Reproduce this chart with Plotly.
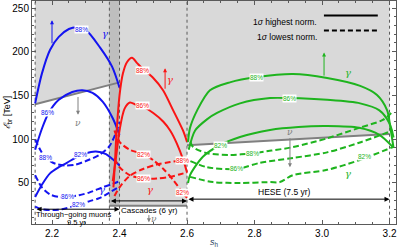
import plotly.graph_objects as go

# ---------------- data ----------------
x_ticks = [2.2, 2.4, 2.6, 2.8, 3.0, 3.2]
y_ticks = [50, 100, 150, 200, 250]

muon_range = [2.15, 2.4]
cascade_range = [2.37, 2.6]
hese_range = [2.6, 3.2]
dotted_x = [2.15, 2.37, 2.4, 2.6, 3.2]

nu_muon_x = [2.15, 2.4]
nu_muon_y = [140, 165]
nu_casc_y = 24
nu_hese_x = [2.6, 3.2]
nu_hese_y = [93, 106]
y_top = 258

# blue (through-going muons)
blue_s88_x = [2.15, 2.17, 2.194, 2.22, 2.25, 2.274, 2.30, 2.342, 2.378, 2.40]
blue_s88_y = [141, 175, 202, 217, 226, 228, 225, 205, 183, 159]
blue_s86_x = [2.15, 2.17, 2.19, 2.22, 2.26, 2.29, 2.32, 2.35, 2.38, 2.40]
blue_s86_y = [88, 112, 130, 145, 154, 156, 153, 143, 124, 105]
blue_s82_x = [2.15, 2.17, 2.194, 2.22, 2.244, 2.27, 2.30, 2.33, 2.36, 2.38, 2.40]
blue_s82_y = [34, 48, 61, 68, 73, 79, 84, 86, 83, 77, 70]
blue_d88_x = [2.15, 2.165, 2.18, 2.21, 2.24, 2.27, 2.30, 2.34, 2.37, 2.39, 2.40]
blue_d88_y = [100, 88, 79, 72, 70, 71, 75, 82, 92, 108, 120]
blue_d86_x = [2.15, 2.17, 2.194, 2.22, 2.247, 2.28, 2.31, 2.35, 2.38, 2.40]
blue_d86_y = [59, 45, 37, 34, 34, 36, 39, 45, 49, 52]
blue_d82_x = [2.15, 2.17, 2.194, 2.23, 2.277, 2.31, 2.342, 2.37, 2.40]
blue_d82_y = [23, 20, 19, 20, 25, 29, 33, 39, 46]

# red (cascades)
red_s88_x = [2.382, 2.386, 2.39, 2.40, 2.41, 2.422, 2.437, 2.452, 2.47, 2.50, 2.529, 2.559, 2.588, 2.60]
red_s88_y = [45, 70, 100, 150, 175, 188, 193, 187, 180, 170, 156, 133, 110, 97]
red_s86_x = [2.38, 2.39, 2.40, 2.415, 2.431, 2.45, 2.47, 2.50, 2.53, 2.55, 2.57, 2.59, 2.60]
red_s86_y = [52, 80, 110, 135, 142, 139, 137, 130, 120, 110, 95, 75, 62]
red_d82_x = [2.385, 2.40, 2.43, 2.47, 2.50, 2.53, 2.56, 2.587, 2.60]
red_d82_y = [110, 97, 88, 83, 76, 66, 53, 39, 33]
red_d88_x = [2.385, 2.40, 2.43, 2.47, 2.51, 2.55, 2.587, 2.60]
red_d88_y = [35, 45, 58, 66, 71, 74, 76, 77]
red_d86_x = [2.385, 2.40, 2.43, 2.47, 2.51, 2.55, 2.58, 2.60]
red_d86_y = [78, 68, 59, 55, 55, 57, 60, 62]

# green (HESE)
green_s88_x = [2.603, 2.609, 2.63, 2.668, 2.727, 2.807, 2.914, 3.015, 3.113, 3.163, 3.193, 3.203, 3.212]
green_s88_y = [97, 113, 133, 156, 165, 171, 174.6, 170, 161, 150.6, 133, 112, 90]
green_s86_x = [2.605, 2.624, 2.66, 2.689, 2.757, 2.846, 2.905, 3.015, 3.113, 3.17, 3.2, 3.212]
green_s86_y = [88, 110, 123, 130, 141, 147, 147, 145, 141, 133, 118, 102]
green_s82_x = [2.603, 2.609, 2.647, 2.698, 2.757, 2.846, 2.93, 3.015, 3.11, 3.17, 3.21]
green_s82_y = [50, 59, 80, 93.4, 102.6, 110.6, 114, 115, 113, 105, 91]
green_d88_x = [2.61, 2.618, 2.66, 2.727, 2.795, 2.85, 2.914, 3.015, 3.11, 3.18, 3.205]
green_d88_y = [97, 91, 84, 82, 84, 87, 91, 101, 113, 122, 130]
green_d86_x = [2.61, 2.66, 2.748, 2.816, 2.914, 3.015, 3.11, 3.21]
green_d86_y = [75, 68, 66, 73, 78.6, 85, 96, 110]
green_d82_x = [2.609, 2.677, 2.757, 2.846, 2.875, 2.914, 3.015, 3.11, 3.21]
green_d82_y = [57, 51, 50, 51, 51, 59, 65, 76, 91]

# contour labels: (x, y, text, colour key)
contour_labels = [
    (2.286, 225, "88%", "b"), (2.188, 130, "86%", "b"), (2.283, 83, "82%", "b"),
    (2.18, 79, "88%", "b"), (2.247, 34, "86%", "b"), (2.277, 25, "82%", "b"),
    (2.467, 179, "88%", "r"), (2.467, 138, "86%", "r"), (2.47, 83, "82%", "r"),
    (2.587, 76, "88%", "r"), (2.47, 55, "86%", "r"), (2.587, 39, "82%", "r"),
    (2.807, 171, "88%", "g"), (2.905, 147, "86%", "g"), (2.698, 93, "82%", "g"),
    (2.795, 84, "88%", "g"), (2.748, 66, "86%", "g"), (3.127, 80, "82%", "g"),
]

BLUE = "rgb(20,20,240)"
RED = "rgb(250,20,20)"
GREEN = "rgb(30,180,30)"
GRAY = "rgb(128,128,128)"
COL = {"b": BLUE, "r": RED, "g": GREEN}
LIGHT = "rgb(217,217,217)"
DARK = "rgb(190,190,190)"

fig = go.Figure()

# ---------------- shading ----------------
fig.add_trace(go.Scatter(
    x=[nu_muon_x[0], nu_muon_x[1], nu_muon_x[1], nu_muon_x[0]],
    y=[nu_muon_y[0], nu_muon_y[1], y_top, y_top],
    fill="toself", fillcolor=LIGHT, line=dict(width=0), mode="lines",
    hoverinfo="skip", showlegend=False))
fig.add_trace(go.Scatter(
    x=[cascade_range[0], cascade_range[1], cascade_range[1], cascade_range[0]],
    y=[nu_casc_y, nu_casc_y, y_top, y_top],
    fill="toself", fillcolor=LIGHT, line=dict(width=0), mode="lines",
    hoverinfo="skip", showlegend=False))
fig.add_trace(go.Scatter(
    x=[nu_hese_x[0], nu_hese_x[1], nu_hese_x[1], nu_hese_x[0]],
    y=[nu_hese_y[0], nu_hese_y[1], y_top, y_top],
    fill="toself", fillcolor=LIGHT, line=dict(width=0), mode="lines",
    hoverinfo="skip", showlegend=False))
fig.add_trace(go.Scatter(
    x=[cascade_range[0], muon_range[1], muon_range[1], cascade_range[0]],
    y=[nu_casc_y, nu_casc_y, y_top, y_top],
    fill="toself", fillcolor=DARK, line=dict(width=0), mode="lines",
    hoverinfo="skip", showlegend=False))

# threshold lines
for xs, ys in [(nu_muon_x, nu_muon_y), (cascade_range, [nu_casc_y, nu_casc_y]), (nu_hese_x, nu_hese_y)]:
    fig.add_trace(go.Scatter(x=xs, y=ys, mode="lines", line=dict(color=GRAY, width=2),
                             hoverinfo="skip", showlegend=False))

# dotted vertical lines
for xv in dotted_x:
    fig.add_trace(go.Scatter(x=[xv, xv], y=[0, 300], mode="lines",
                             line=dict(color="rgb(90,90,90)", width=1, dash="dot"),
                             hoverinfo="skip", showlegend=False))

# ---------------- curves ----------------
curves = [
    (blue_s88_x, blue_s88_y, BLUE, "solid"), (blue_s86_x, blue_s86_y, BLUE, "solid"),
    (blue_s82_x, blue_s82_y, BLUE, "solid"), (blue_d88_x, blue_d88_y, BLUE, "dash"),
    (blue_d86_x, blue_d86_y, BLUE, "dash"), (blue_d82_x, blue_d82_y, BLUE, "dash"),
    (red_s88_x, red_s88_y, RED, "solid"), (red_s86_x, red_s86_y, RED, "solid"),
    (red_d82_x, red_d82_y, RED, "dash"), (red_d88_x, red_d88_y, RED, "dash"),
    (red_d86_x, red_d86_y, RED, "dash"),
    (green_s88_x, green_s88_y, GREEN, "solid"), (green_s86_x, green_s86_y, GREEN, "solid"),
    (green_s82_x, green_s82_y, GREEN, "solid"), (green_d88_x, green_d88_y, GREEN, "dash"),
    (green_d86_x, green_d86_y, GREEN, "dash"), (green_d82_x, green_d82_y, GREEN, "dash"),
]
for xs, ys, c, d in curves:
    fig.add_trace(go.Scatter(x=xs, y=ys, mode="lines",
                             line=dict(color=c, width=2, dash="6px,3px" if d == "dash" else "solid",
                                       shape="spline", smoothing=0.8),
                             hoverinfo="skip", showlegend=False))

ann = []
for x, y, t, k in contour_labels:
    ann.append(dict(x=x, y=y, text=t, showarrow=False, bgcolor="white", borderpad=0,
                    font=dict(size=6.5, color=COL[k], family="Liberation Sans")))

# gamma arrows (pointing up)
for x0, y0, y1, col in [(2.2, 208, 236, BLUE), (2.535, 156, 181, RED), (3.006, 171, 199, GREEN)]:
    ann.append(dict(x=x0, y=y1, ax=x0, ay=y0, xref="x", yref="y", axref="x", ayref="y",
                    showarrow=True, arrowhead=2, arrowsize=0.8, arrowwidth=1, arrowcolor=col, text=""))
for x, y, col in [(2.357, 221, BLUE), (2.55, 168, RED), (3.077, 176, GREEN),
                  (2.348, 43, BLUE), (2.49, 42, RED), (3.077, 61, GREEN)]:
    ann.append(dict(x=x, y=y, text="<i>γ</i>", showarrow=False,
                    font=dict(size=10, color=col, family="DejaVu Serif")))

# nu arrows (pointing down)
for x0, y0, y1 in [(2.277, 150, 128), (2.905, 103, 68), (2.487, 15, 5)]:
    ann.append(dict(x=x0, y=y1, ax=x0, ay=y0, xref="x", yref="y", axref="x", ayref="y",
                    showarrow=True, arrowhead=2, arrowsize=0.8, arrowwidth=1, arrowcolor=GRAY, text=""))
for x, y in [(2.277, 119), (2.905, 108), (2.503, 9)]:
    ann.append(dict(x=x, y=y, text="<i>ν</i>", showarrow=False,
                    font=dict(size=9, color=GRAY, family="DejaVu Serif")))

# sample range arrows
for (xa, xb), yv in [(muon_range, 20), (cascade_range, 29.5), (hese_range, 31.5)]:
    ann.append(dict(x=xb, y=yv, ax=xa, ay=yv, xref="x", yref="y", axref="x", ayref="y",
                    showarrow=True, arrowhead=2, startarrowhead=2, arrowside="end+start",
                    arrowsize=1, arrowwidth=1, arrowcolor="black", text=""))
txt_font = dict(size=7.5, color="black", family="Liberation Sans")
ann += [
    dict(x=2.265, y=14, text="Through−going muons", showarrow=False, font=txt_font),
    dict(x=2.272, y=5, text="9.5 yr", showarrow=False, font=txt_font),
    dict(x=2.49, y=18.5, text="Cascades (6 yr)", showarrow=False, font=dict(size=8, color="black", family="Liberation Sans")),
    dict(x=2.89, y=40, text="HESE (7.5 yr)", showarrow=False, font=dict(size=8.5, color="black", family="Liberation Sans")),
]

# y-axis title as rotated text
ann.append(dict(x=-0.066, y=0.5, xref="paper", yref="paper", xanchor="center", yanchor="middle",
                textangle=-90, showarrow=False, text="<i>ℰ</i><sub>br</sub> [TeV]",
                font=dict(size=9, color="black", family="Liberation Sans")))

# legend
leg_font = dict(size=8.5, color="black", family="Liberation Sans")
ann += [
    dict(x=0.789, y=0.935, xref="paper", yref="paper", xanchor="right", text="1<i>σ</i> highest norm.",
         showarrow=False, font=leg_font),
    dict(x=0.789, y=0.868, xref="paper", yref="paper", xanchor="right", text="1<i>σ</i> lowest norm.",
         showarrow=False, font=leg_font),
]
shapes = [
    dict(type="line", xref="paper", yref="paper", x0=0.802, x1=0.95, y0=0.935, y1=0.935,
         line=dict(color="black", width=2)),
    dict(type="line", xref="paper", yref="paper", x0=0.802, x1=0.95, y0=0.868, y1=0.868,
         line=dict(color="black", width=2, dash="5px,3px")),
]

axis_common = dict(showline=True, linecolor="rgb(90,90,90)", linewidth=1, mirror="ticks",
                   ticks="inside", ticklen=4, tickcolor="rgb(90,90,90)", showgrid=False,
                   zeroline=False, automargin=False,
                   tickfont=dict(size=10, color="black", family="Liberation Sans"))
fig.update_layout(
    width=399, height=252, margin=dict(l=32, r=3, t=1, b=28),
    plot_bgcolor="white", paper_bgcolor="white",
    xaxis=dict(range=[2.1407, 3.2192], tickvals=x_ticks, ticktext=[f"{v:.1f}" for v in x_ticks],
               minor=dict(dtick=0.05, ticklen=2, ticks="inside", tickcolor="rgb(90,90,90)"),
               title=dict(text="<i>s</i><sub>h</sub>", standoff=0,
                          font=dict(size=9, family="Liberation Sans")), **axis_common),
    yaxis=dict(range=[3.1, 258], tickvals=y_ticks,
               minor=dict(dtick=10, ticklen=2, ticks="inside", tickcolor="rgb(90,90,90)"),
               **axis_common),
    annotations=ann, shapes=shapes,
)

fig.write_html("out.html", config={"displayModeBar": False},
               post_script="document.body.style.margin='0';document.body.style.overflow='hidden';")
